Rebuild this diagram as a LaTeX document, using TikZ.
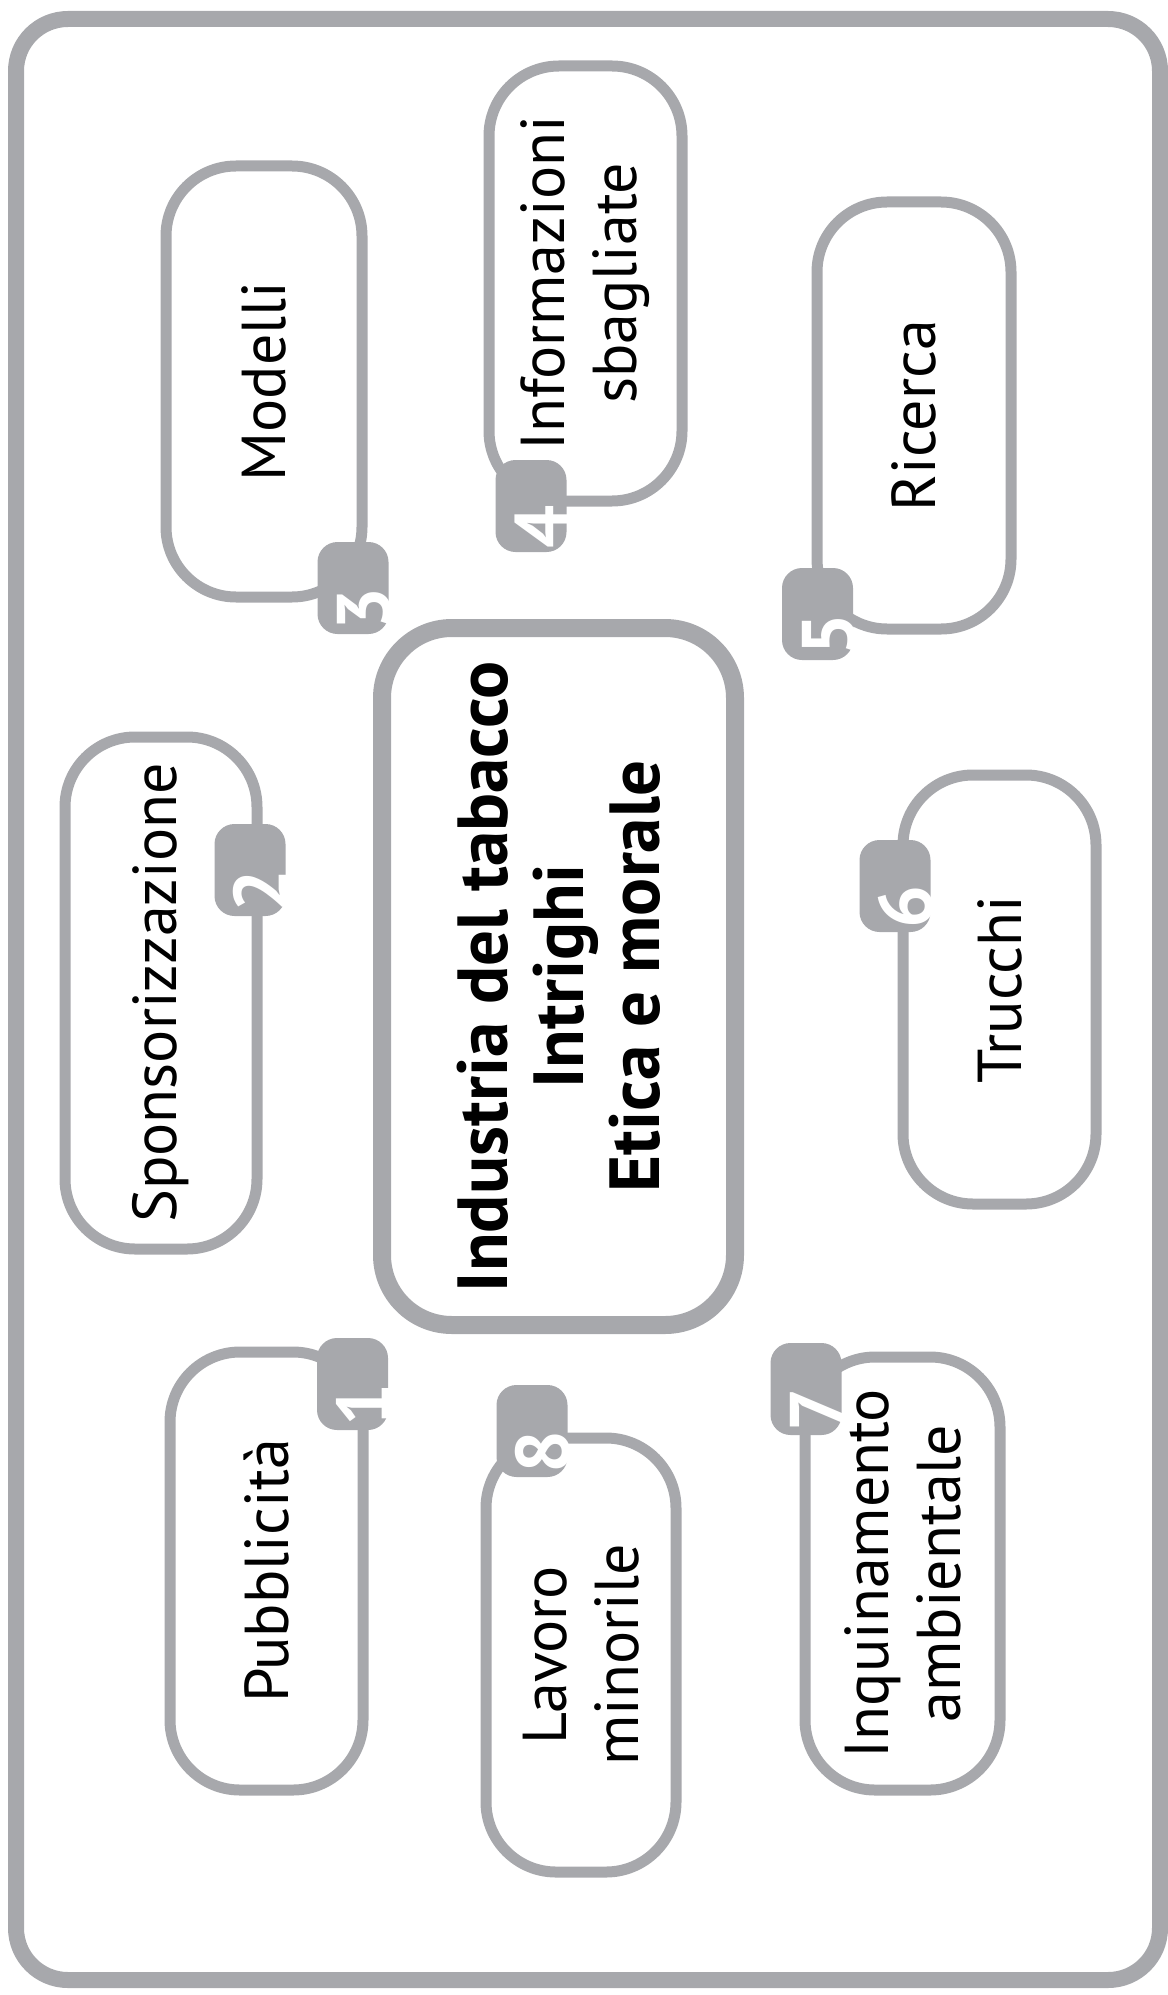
\documentclass[tikz,border=0pt]{standalone}
\usepackage{fontspec}
\setmainfont{PT Sans}
\usetikzlibrary{calc}
\definecolor{bgray}{RGB}{167,168,172}
\begin{document}
\begin{tikzpicture}[x=0.5pt,y=-0.5pt,
  frame/.style={draw=bgray, line width=8pt, rounded corners=26pt, minimum width=572pt, minimum height=980.5pt, inner sep=0pt, outer sep=0pt},
  topic/.style={draw=bgray, line width=5.5pt, rounded corners=35pt, rotate=90, align=center, inner sep=0pt, outer sep=0pt, font=\fontsize{31}{36}\selectfont},
  core/.style={draw=bgray, line width=9pt, rounded corners=35pt, rotate=90, align=center, inner sep=0pt, outer sep=0pt, font=\bfseries\fontsize{35.5}{38}\selectfont},
  badge/.style={fill=bgray, rounded corners=10pt, minimum width=35.5pt, minimum height=46pt, inner sep=0pt, outer sep=0pt},
  num/.style={text=white, rotate=90, anchor=base, font=\bfseries\fontsize{38}{38}\selectfont, inner sep=0pt}
]
\useasboundingbox (0,0) rectangle (1167,1995);
\node[frame] (frame) at (588,999.5) {};
\node[core, minimum width=348.5pt, minimum height=176.5pt] (core) at (558.5,976.5) {Industria del tabacco\\Intrighi\\Etica e morale};

\node[topic, minimum width=215.5pt, minimum height=98pt] (modelli) at (264,381.5) {Modelli};
\node[topic, minimum width=217.5pt, minimum height=96.5pt] (info) at (585.5,283.5) {Informazioni\\sbagliate};
\node[topic, minimum width=213.5pt, minimum height=97pt] (ricerca) at (914,415.5) {Ricerca};
\node[topic, minimum width=256pt, minimum height=96pt] (sponsor) at (161,993) {Sponsorizzazione};
\node[topic, minimum width=214.5pt, minimum height=96.5pt] (trucchi) at (999.5,989.5) {Trucchi};
\node[topic, minimum width=219pt, minimum height=96.5pt] (pubbl) at (266.5,1571) {Pubblicità};
\node[topic, minimum width=217pt, minimum height=95pt] (lavoro) at (581,1655) {Lavoro\\minorile};
\node[topic, minimum width=216.5pt, minimum height=97.5pt] (inquin) at (902.5,1573.5) {Inquinamento\\ambientale};

\node[badge] (b1) at (352.5,1384) {};
\node[badge] (b2) at (250,870) {};
\node[badge] (b3) at (353,588) {};
\node[badge] (b4) at (531,506) {};
\node[badge] (b5) at (817.5,614) {};
\node[badge] (b6) at (895,886) {};
\node[badge] (b7) at (806,1389) {};
\node[badge] (b8) at (532,1431) {};

\node[num] (n1) at ($(b1.south east)+(2,-25)$) {1};
\node[num] (n2) at ($(b2.south east)+(2,-25)$) {2};
\node[num] (n3) at ($(b3.south east)+(2,-25)$) {3};
\node[num] (n4) at ($(b4.south east)+(2,-25)$) {4};
\node[num] (n5) at ($(b5.south east)+(2,-25)$) {5};
\node[num] (n6) at ($(b6.south east)+(2,-25)$) {6};
\node[num] (n7) at ($(b7.south east)+(2,-25)$) {7};
\node[num] (n8) at ($(b8.south east)+(2,-25)$) {8};
\end{tikzpicture}
\end{document}
